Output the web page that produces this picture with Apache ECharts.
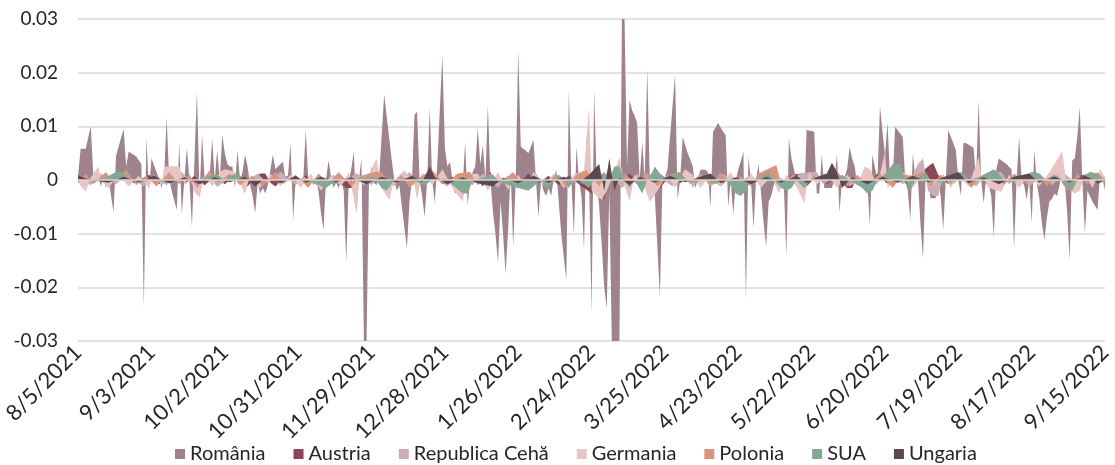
<!DOCTYPE html>
<html>
<head>
<meta charset="utf-8">
<script src="https://cdn.jsdelivr.net/npm/echarts@6/dist/echarts.min.js"></script>
<style>
html,body{margin:0;padding:0;background:#fff;}
#c{width:1115px;height:465px;}
</style>
</head>
<body>
<div id="c"></div>
<script>
// Category axis: every calendar day from 8/5/2021 to 9/15/2022
var startDate = [2021, 8, 5];
var dayCount = 407;
var labelEvery = 29;
var yTicks = [-0.03, -0.02, -0.01, 0, 0.01, 0.02, 0.03];
var seriesNames = ['România', 'Austria', 'Republica Cehă', 'Germania', 'Polonia', 'SUA', 'Ungaria'];

// values as [dayIndex, value]
var romania = [[0,0.0008],[1,0.0058],[3,0.0058],[5,0.0100],[6,0.001],[7,-0.0005],[8,0.0008],[9,-0.0012],[10,0.0005],[11,-0.0015],[12,0.0003],[14,-0.006],[15,0.0045],[18,0.0095],[19,0.0025],[20,0.0053],[23,0.0044],[25,0.003],[26,-0.0236],[27,0.008],[28,-0.002],[29,0.004],[31,0.0015],[32,0.0002],[33,-0.0015],[34,0.0005],[35,0.0117],[36,0.0002],[37,-0.002],[39,-0.0056],[40,0.0069],[41,-0.0065],[42,0],[43,0.006],[44,0],[45,-0.0087],[47,0.0164],[48,-0.003],[49,0.0084],[50,0.0003],[51,0.0008],[52,0.0005],[53,0.0078],[54,0],[55,0.0056],[56,0],[57,0.0084],[58,0.005],[59,0.003],[60,0.0025],[61,0.0025],[62,-0.0015],[63,0.0056],[64,0],[65,0.0015],[66,0.0047],[67,0.0025],[68,-0.001],[69,-0.003],[70,-0.0062],[71,-0.0005],[72,-0.0025],[73,-0.0015],[74,-0.0025],[75,-0.001],[77,0.0047],[78,0.002],[79,0.0025],[81,0.0034],[82,0],[83,0.001],[84,0.0069],[85,-0.0075],[86,0],[87,0.0003],[88,-0.0005],[89,0],[90,0.0093],[91,0],[92,0.0005],[93,-0.001],[94,0.0003],[95,-0.002],[96,-0.006],[97,-0.0093],[98,0],[99,0.0037],[100,0.0005],[101,-0.0015],[102,-0.0005],[103,-0.0015],[104,0],[105,-0.002],[106,-0.0153],[107,0],[108,0.002],[109,0.0053],[110,-0.0062],[111,0],[112,0.004],[113,-0.0305],[114,-0.0305],[115,0],[116,0.0025],[117,-0.0005],[118,-0.001],[119,0.0005],[121,0.016],[124,0.0037],[125,0],[126,-0.002],[127,-0.001],[128,-0.005],[130,-0.0127],[131,-0.004],[132,0],[133,0.0121],[134,0.0127],[135,0],[136,-0.003],[137,-0.0069],[138,0],[139,0.0134],[140,0],[141,-0.0043],[142,0.003],[144,0.0233],[145,0.006],[146,0.0025],[147,0.0034],[148,0],[149,-0.0025],[150,-0.002],[151,-0.0028],[152,-0.0015],[153,0.0071],[154,-0.0047],[155,0],[156,0.0015],[157,0.0025],[158,0.0096],[159,0.003],[160,0.0065],[161,0],[162,0.014],[163,0],[164,-0.006],[165,-0.01],[166,-0.0155],[167,-0.004],[168,-0.01],[169,-0.0174],[170,-0.0093],[171,0.002],[172,-0.0124],[173,0],[174,0.0242],[175,0.0062],[176,0.0058],[177,0.0055],[178,0.005],[179,0.0062],[180,0.0075],[181,0],[182,-0.0069],[183,0],[184,-0.002],[185,-0.003],[186,-0.0015],[187,-0.003],[188,0],[189,0.002],[190,-0.004],[191,-0.01],[193,-0.0186],[194,0.0168],[195,0],[196,-0.0102],[197,0.0062],[198,0],[199,-0.003],[200,-0.013],[201,0.0084],[202,0],[203,-0.0248],[204,0.0168],[205,0],[206,-0.005],[207,-0.012],[208,-0.02],[209,-0.0239],[210,-0.002],[211,-0.0305],[214,-0.0305],[215,0.0305],[216,0.0305],[217,0.0025],[218,0.0149],[219,0.013],[220,0.012],[221,0.0106],[222,0],[223,0.0071],[224,0],[225,0.0208],[226,0],[227,0],[228,-0.003],[230,-0.0218],[231,0],[232,0.0005],[233,0.002],[234,0.008],[236,0.0196],[237,-0.0037],[238,0],[239,0.008],[240,0.0065],[241,0.005],[242,0.0038],[243,0.0025],[244,-0.0015],[245,0],[246,0.0019],[248,0.0019],[249,0.0015],[250,-0.0052],[251,0.009],[252,0.0098],[253,0.0106],[254,0.0098],[255,0.009],[256,0.0084],[257,-0.005],[258,0],[259,-0.0065],[260,0],[261,0.002],[262,0.0035],[263,0.0053],[264,-0.0224],[265,0.0043],[266,0],[267,-0.009],[268,0],[269,0.003],[270,-0.0025],[271,-0.008],[272,-0.0124],[273,-0.004],[274,-0.003],[275,-0.001],[276,0.0005],[277,-0.0005],[278,0.0005],[279,-0.001],[280,-0.0143],[281,0.0078],[282,0.004],[283,0.002],[284,0],[285,0.0005],[286,-0.001],[287,-0.0043],[288,0.0093],[291,0.009],[292,-0.0025],[293,-0.0025],[294,0.0047],[295,-0.0015],[298,-0.0015],[299,0],[300,0.0047],[301,-0.006],[302,0],[303,0.0005],[304,0.002],[305,0.0062],[306,0.004],[307,0.0025],[308,-0.001],[309,0],[310,-0.0005],[311,0],[312,-0.0005],[313,-0.0084],[314,0.0047],[316,0],[317,0.0138],[318,0.009],[319,0.0047],[320,0.0106],[321,0],[322,0],[323,0.0099],[326,0.008],[327,0],[328,-0.002],[329,-0.0075],[330,0.005],[331,0],[332,0],[333,-0.008],[334,-0.0146],[335,0],[336,0.0005],[337,-0.0034],[339,-0.0034],[340,0],[341,-0.003],[342,-0.0093],[343,0],[344,0.0093],[347,0.0056],[348,0],[349,-0.003],[350,0.0069],[351,0.0069],[354,0.006],[355,0],[356,0.0149],[357,0],[358,-0.0043],[359,0.0005],[360,-0.001],[361,-0.003],[362,-0.0106],[363,0.002],[364,0.004],[367,0.003],[369,0.002],[370,-0.0127],[371,0],[372,0.008],[373,0],[374,-0.001],[375,-0.0037],[376,0],[377,-0.008],[378,0.0056],[379,-0.0005],[380,-0.0035],[381,-0.008],[382,-0.0112],[383,-0.007],[384,-0.004],[385,-0.0035],[386,-0.0025],[387,-0.003],[388,-0.001],[389,0.003],[390,0],[391,-0.006],[392,-0.0149],[393,0.0037],[394,0.004],[395,0.008],[396,0.0136],[397,0],[398,-0.0099],[399,-0.002],[401,-0.004],[403,-0.0056],[404,0.001],[406,0.0005]];

var austria = [[0,0.001],[4,-0.0008],[8,0.0005],[12,-0.001],[18,0.0008],[22,-0.0006],[28,0.001],[32,-0.0008],[38,0.0012],[42,-0.0008],[46,0.0008],[50,-0.001],[54,0.0006],[58,-0.0008],[62,0.0009],[67,-0.0012],[70,0.0005],[72,0.0012],[74,0.0012],[76,-0.0005],[78,-0.0012],[82,0.0008],[86,-0.0006],[90,0.0009],[95,-0.001],[100,0.0008],[106,-0.0015],[108,-0.0015],[110,-0.0015],[112,0.0005],[116,-0.0008],[120,0.001],[124,-0.0008],[128,0.0006],[132,-0.001],[136,0.0008],[140,0.0012],[144,-0.0008],[148,0.0006],[152,-0.0007],[156,0.001],[160,-0.0012],[163,0.0015],[166,-0.001],[170,0.0008],[174,-0.0008],[178,0.0012],[182,-0.0006],[186,0.0008],[190,-0.001],[194,0.0009],[198,-0.0008],[203,-0.0025],[205,0.001],[208,-0.0037],[210,0.0008],[214,-0.001],[218,0.0012],[222,-0.0008],[226,0.001],[230,-0.0015],[234,0.0008],[238,-0.0006],[242,0.0009],[246,-0.0008],[250,0.0006],[254,-0.0012],[258,0.0008],[262,-0.0006],[266,0.0009],[270,-0.001],[274,0.0008],[278,-0.0006],[282,0.001],[286,0.0012],[288,-0.0012],[292,0.0008],[296,-0.0008],[300,0.0006],[304,-0.0015],[306,-0.0015],[308,0.0008],[312,-0.001],[316,0.0012],[320,-0.0008],[324,0.0006],[328,-0.001],[332,0.0008],[336,0.0025],[338,0.0032],[340,0.001],[344,-0.0008],[348,0.0006],[352,-0.001],[356,0.0009],[360,-0.0012],[364,0.0008],[368,-0.0006],[372,0.001],[376,-0.0008],[380,0.0012],[384,-0.0008],[388,0.0006],[392,-0.001],[396,0.0008],[400,0.0012],[403,-0.0008],[406,0.0005]];

var cehia = [[0,0.0005],[5,-0.001],[9,0.0012],[15,-0.0008],[19,0.0009],[26,-0.0012],[30,0.0006],[35,-0.001],[41,0.0015],[45,-0.0007],[51,0.001],[55,-0.0013],[61,0.0008],[64,-0.001],[71,0.0012],[75,-0.0007],[80,0.0016],[86,-0.001],[89,0.0007],[95,-0.0012],[101,0.001],[104,-0.0008],[110,0.0013],[116,-0.001],[119,0.0008],[125,-0.0011],[131,0.0015],[135,-0.0008],[139,0.001],[146,-0.0012],[150,0.0007],[156,-0.001],[160,0.0012],[166,-0.0015],[170,0.0009],[175,-0.0008],[181,0.0012],[185,-0.0015],[189,0.001],[195,-0.0008],[200,0.0015],[206,-0.0012],[210,0.001],[215,-0.0015],[221,0.0012],[225,-0.001],[229,0.0008],[235,-0.0012],[240,0.002],[243,-0.0015],[246,0.0008],[251,-0.001],[255,0.0012],[260,-0.0008],[266,0.001],[270,-0.0012],[275,0.0008],[281,-0.001],[285,0.0012],[290,0.0015],[292,0.0015],[295,-0.0008],[300,0.001],[305,-0.0012],[311,0.0008],[315,-0.001],[320,0.0012],[326,-0.0008],[330,0.001],[332,0.003],[334,0.004],[336,-0.002],[338,-0.003],[340,-0.003],[342,0.0005],[346,-0.0008],[350,0.001],[355,-0.0012],[360,0.0015],[365,0.0015],[368,-0.0008],[372,0.001],[376,-0.0012],[381,0.0008],[385,-0.001],[390,0.0012],[395,-0.0008],[400,0.001],[406,-0.0005]];

var germania = [[0,-0.0005],[3,-0.0022],[5,0.0005],[8,0.0025],[9,0],[12,-0.0015],[16,0.001],[20,-0.0012],[24,0.0008],[28,-0.0015],[30,0.001],[33,-0.001],[34,0.0025],[36,0.0025],[38,0.0026],[40,0.0025],[42,-0.001],[44,0.0012],[46,-0.0022],[48,-0.0033],[50,0.001],[53,-0.0012],[56,0.0015],[58,0.002],[60,0.0018],[62,0.0015],[66,-0.0026],[68,0.001],[72,-0.0015],[76,0.0012],[80,-0.0012],[84,0.001],[88,-0.0015],[92,0.0012],[96,-0.002],[100,0.001],[104,-0.0012],[107,0.0015],[110,-0.006],[111,0],[113,-0.001],[118,0.004],[120,-0.0015],[123,-0.0037],[125,0],[129,0.0018],[133,-0.001],[134,-0.0037],[136,0.0015],[140,-0.001],[144,0.002],[148,-0.0015],[152,-0.004],[154,0.001],[158,0.0012],[162,-0.002],[166,0.0015],[170,-0.0018],[174,0.001],[177,-0.0015],[180,0.0015],[184,-0.001],[188,0.0012],[192,-0.0015],[196,0.001],[200,0.0018],[202,0.0136],[203,-0.002],[205,-0.003],[207,-0.0037],[209,-0.002],[212,0.0015],[214,0.0043],[216,-0.001],[218,-0.004],[220,0.001],[224,-0.0015],[226,-0.004],[227,-0.0035],[229,-0.002],[233,0.001],[236,-0.0015],[240,0.002],[243,0.001],[246,-0.0015],[250,0.001],[254,-0.0012],[258,0.0015],[262,-0.002],[266,0.0012],[270,-0.0015],[274,0.001],[277,-0.0025],[280,0.001],[284,-0.0012],[287,-0.0043],[289,0.0015],[292,-0.001],[296,0.0012],[300,-0.0015],[304,0.001],[308,-0.001],[311,0.0025],[313,0.002],[316,-0.001],[319,0.0053],[320,-0.0015],[324,0.001],[327,0.0015],[330,-0.0015],[334,0.001],[338,-0.001],[342,0.0012],[345,-0.0015],[348,0.001],[352,-0.0012],[356,0.0043],[357,0.001],[360,-0.0015],[365,-0.0022],[368,0.001],[372,-0.0015],[376,0.001],[380,-0.0012],[384,0.0015],[389,0.0053],[391,-0.0015],[394,-0.0025],[396,-0.002],[398,0.001],[401,-0.0015],[404,0.002],[406,0.0005]];

var polonia = [[0,-0.0005],[3,0.0012],[6,-0.0008],[11,0.0015],[14,-0.0005],[19,0.002],[23,-0.001],[27,0.0008],[31,-0.0012],[36,0.0015],[40,-0.0008],[44,0.001],[47,-0.0015],[52,0.0018],[55,-0.0006],[60,0.0012],[64,-0.001],[69,0.0008],[73,-0.0012],[78,0.0015],[81,-0.0008],[86,0.001],[91,-0.0015],[95,0.0012],[99,-0.0006],[103,0.0015],[108,-0.0012],[112,0.0008],[117,0.0015],[120,0.0015],[123,-0.001],[128,0.001],[131,-0.0015],[136,0.0008],[140,0.0018],[145,-0.0008],[150,0.0012],[155,0.0015],[158,-0.001],[163,0.0012],[167,-0.0008],[172,0.0015],[176,-0.0012],[180,0.001],[185,-0.0008],[189,0.0012],[193,-0.0015],[197,0.001],[201,0.0018],[206,-0.0012],[210,0.0022],[212,-0.0015],[216,0.0012],[221,-0.0008],[225,0.0015],[229,-0.0012],[234,0.001],[238,0.0015],[242,-0.0008],[246,0.0012],[250,-0.0012],[254,0.0015],[258,-0.001],[262,0.0008],[266,-0.0012],[269,0.0012],[276,0.0028],[278,-0.0008],[283,0.0012],[287,-0.0015],[291,0.001],[295,-0.0008],[300,0.0018],[304,-0.0012],[308,0.001],[312,-0.0008],[317,0.0012],[322,-0.0015],[326,0.001],[330,0.0008],[334,0.0015],[337,-0.0012],[341,0.001],[345,-0.0008],[349,0.0012],[353,-0.0015],[358,0.001],[362,0.0018],[366,-0.001],[370,0.0012],[375,-0.0008],[379,0.0015],[383,-0.0012],[387,0.001],[391,-0.002],[395,0.0012],[399,-0.0008],[403,0.0015],[406,0]];

var sua = [[0,0],[10,0.0003],[15,0.0015],[18,0.0015],[20,0],[25,-0.0005],[30,0.0002],[35,-0.0006],[40,0.0003],[45,-0.0004],[52,0.0008],[55,0.001],[58,0],[60,0.0008],[63,0.0012],[66,0],[70,-0.0005],[75,0.0003],[80,-0.0005],[86,0.0004],[90,0],[98,-0.0015],[100,-0.0008],[105,0.0003],[110,0.0002],[117,0.0005],[120,-0.0015],[122,-0.002],[125,0],[130,0.0004],[137,-0.001],[140,0],[145,0.0003],[152,-0.0025],[154,-0.0025],[156,0],[160,0.0004],[164,0.001],[166,0],[170,-0.001],[174,-0.0015],[178,-0.002],[180,-0.0012],[183,0],[185,-0.0015],[187,-0.0008],[190,0.001],[192,0.0003],[194,-0.0015],[196,0],[200,-0.0008],[202,-0.0015],[204,0],[208,0.0015],[210,0],[212,0.0025],[214,0.0025],[216,0],[218,-0.0015],[220,0],[223,-0.0025],[225,0],[227,0.0015],[228,0.0025],[230,0.0012],[232,0.0005],[235,0.001],[238,0.0015],[240,0],[244,-0.0005],[248,0.0003],[252,-0.0008],[256,0.0004],[260,-0.0025],[262,-0.003],[264,-0.002],[266,0],[270,0.0005],[273,0.0015],[275,0],[278,-0.0015],[280,-0.002],[282,-0.0015],[284,0],[287,-0.0015],[290,0.0003],[295,0.001],[298,0],[302,0.001],[305,0],[310,-0.0015],[312,-0.0025],[314,-0.002],[316,0],[320,0.0015],[322,0.003],[325,0.003],[327,0],[329,-0.002],[331,0],[335,0.0015],[337,0],[342,-0.0005],[346,0.0008],[349,0.0015],[352,0],[356,0.0005],[360,0.0015],[362,0.002],[364,0.0012],[366,0],[370,-0.0005],[374,0.0008],[377,0.0015],[380,0.0012],[382,0],[386,0.001],[389,0],[391,-0.0015],[393,-0.002],[395,0],[400,0.0015],[403,0.0012],[405,0],[406,-0.002]];

var ungaria = [[0,0.0008],[5,0],[12,-0.0005],[18,0.0006],[24,-0.0004],[30,0.0008],[36,-0.0006],[42,0.0005],[48,-0.0008],[54,0.0005],[60,-0.0004],[66,0.0006],[70,-0.0012],[74,0.0004],[80,-0.0006],[86,0.0008],[90,-0.0005],[96,0.0006],[102,-0.0004],[108,0.0005],[114,-0.0008],[120,0.0006],[126,-0.0005],[132,0.0008],[136,-0.0004],[139,0.0025],[141,0.0005],[146,-0.0008],[152,0.0005],[158,-0.0006],[164,-0.0012],[168,0.0004],[174,-0.0006],[180,0.0008],[186,-0.0005],[192,0.0006],[198,-0.0004],[202,0.001],[206,0.003],[208,-0.002],[210,0.004],[212,-0.002],[214,0.0004],[218,-0.001],[222,0.0006],[228,-0.0005],[234,0.0008],[240,-0.0004],[246,0.0006],[250,0.0012],[254,-0.0006],[260,0.0005],[266,-0.0008],[272,0.0006],[278,-0.0005],[284,0.0008],[288,-0.0006],[292,0.0005],[296,0.0012],[298,0.0032],[300,0.0015],[302,-0.0015],[306,0.0005],[312,-0.0008],[318,0.0006],[324,-0.0005],[330,0.0008],[336,-0.0004],[342,0.0005],[348,0.0015],[352,-0.0006],[358,0.0005],[364,-0.0008],[370,0.0006],[376,0.0012],[380,-0.0005],[386,0.0006],[392,-0.0004],[398,0.0008],[404,-0.0005],[406,0]];

var colors = ['#9f838c', '#8a4557', '#c9aeb3', '#e8c4c2', '#d8957d', '#84a893', '#5d4751'];

var categories = [];
(function () {
  var t0 = Date.UTC(startDate[0], startDate[1] - 1, startDate[2]);
  for (var i = 0; i < dayCount; i++) {
    var d = new Date(t0 + i * 86400000);
    categories.push((d.getUTCMonth() + 1) + '/' + d.getUTCDate() + '/' + d.getUTCFullYear());
  }
})();

var dataList = [romania, austria, cehia, germania, polonia, sua, ungaria];
var FONT = 'Lato';

var chart = echarts.init(document.getElementById('c'), null, {renderer: 'canvas'});
chart.setOption({
  animation: false,
  color: colors,
  grid: {left: 75, right: 2, top: 19, bottom: 124, containLabel: false},
  legend: {
    top: 439,
    left: 170,
    icon: 'rect',
    itemWidth: 10,
    itemHeight: 10,
    itemGap: 28,
    textStyle: {fontFamily: FONT, fontSize: 20, color: '#262626'},
    data: seriesNames
  },
  xAxis: {
    type: 'category',
    data: categories,
    boundaryGap: false,
    z: 5,
    axisLine: {show: true, onZero: true, lineStyle: {color: '#d9d9d9', width: 1.5}},
    axisTick: {show: false},
    axisLabel: {
      interval: labelEvery - 1,
      rotate: 45,
      margin: 8,
      fontFamily: FONT,
      fontSize: 22,
      color: '#262626'
    },
    splitLine: {show: false}
  },
  yAxis: {
    type: 'value',
    min: yTicks[0],
    max: yTicks[yTicks.length - 1],
    interval: 0.01,
    axisLine: {show: false},
    axisTick: {show: false},
    axisLabel: {
      margin: 20,
      fontFamily: FONT,
      fontSize: 19,
      color: '#262626',
      formatter: function (v) { return Math.abs(v) < 1e-9 ? '0' : v.toFixed(2); }
    },
    splitLine: {lineStyle: {color: '#d9d9d9', width: 1.5}}
  },
  series: seriesNames.map(function (n, i) {
    return {
      name: n,
      type: 'line',
      data: dataList[i],
      showSymbol: false,
      symbol: 'none',
      clip: true,
      lineStyle: {width: 0},
      areaStyle: {color: colors[i], opacity: 1},
      itemStyle: {color: colors[i]},
      emphasis: {disabled: true}
    };
  })
});
</script>
</body>
</html>
